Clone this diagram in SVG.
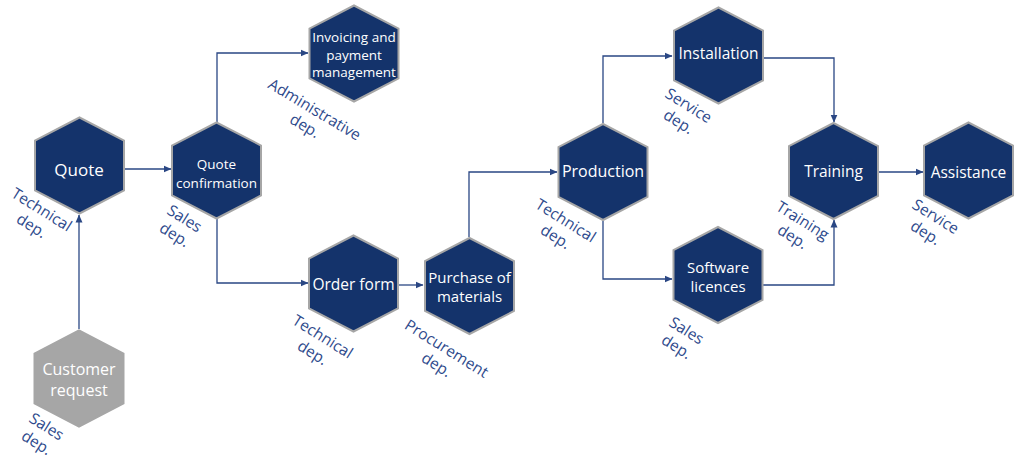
<svg xmlns="http://www.w3.org/2000/svg" xmlns:xlink="http://www.w3.org/1999/xlink" width="1014" height="459" viewBox="0 0 1014 459">
<style>
.hex{fill:#14336b;stroke:#a6a6a6;stroke-width:2}
.hexg{fill:#a6a6a6;stroke:#a6a6a6;stroke-width:2}
.t{font-family:"Open Sans","Liberation Sans",sans-serif;fill:#ffffff;text-anchor:middle;dominant-baseline:central}
.lbl{font-family:"Open Sans","Liberation Sans",sans-serif;fill:#2e4a8c;font-size:15.5px;text-anchor:middle;dominant-baseline:central}
.c{fill:none;stroke:#2a4784;stroke-width:1.3}
</style>
<defs>
<polygon id="hx" points="0,-48 44.5,-25 44.5,25 0,48 -44.5,25 -44.5,-25"/>
<marker id="ah" viewBox="0 0 8 8" refX="7.5" refY="4" markerWidth="8" markerHeight="8" markerUnits="userSpaceOnUse" orient="auto">
<path d="M0,0.5 L8,4 L0,7.5 Z" fill="#2a4784"/>
</marker>
</defs>
<rect width="1014" height="459" fill="#ffffff"/>
<g id="connectors">
<path class="c" d="M79,329 V215" marker-end="url(#ah)"/>
<path class="c" d="M124,169 H171" marker-end="url(#ah)"/>
<path class="c" d="M217,123 V53 H308" marker-end="url(#ah)"/>
<path class="c" d="M217,218 V283 H308" marker-end="url(#ah)"/>
<path class="c" d="M398,285 H423" marker-end="url(#ah)"/>
<path class="c" d="M469,237 V172 H557" marker-end="url(#ah)"/>
<path class="c" d="M603,123 V56 H672" marker-end="url(#ah)"/>
<path class="c" d="M603,221 V279 H672" marker-end="url(#ah)"/>
<path class="c" d="M764,58 H834 V122" marker-end="url(#ah)"/>
<path class="c" d="M763,285 H834 V220" marker-end="url(#ah)"/>
<path class="c" d="M878,172 H923" marker-end="url(#ah)"/>
</g>
<g id="quote">
<use xlink:href="#hx" class="hex" x="79.5" y="165.5"/>
<text class="t" x="79" y="169" font-size="17">Quote</text>
<g transform="translate(42,209) rotate(32)"><text class="lbl" x="0" y="0">Technical</text><text class="lbl" x="0" y="19">dep.</text></g>
</g>
<g id="quote-confirmation">
<use xlink:href="#hx" class="hex" x="216.5" y="170.5"/>
<text class="t" x="216.5" y="164" font-size="13.5">Quote</text>
<text class="t" x="216.5" y="183" font-size="13.5">confirmation</text>
<g transform="translate(185,218) rotate(32)"><text class="lbl" x="0" y="0">Sales</text><text class="lbl" x="0" y="19">dep.</text></g>
</g>
<g id="invoicing">
<use xlink:href="#hx" class="hex" x="354" y="53.5"/>
<text class="t" x="354" y="37" font-size="13.5">Invoicing and</text>
<text class="t" x="354" y="55" font-size="13.5">payment</text>
<text class="t" x="354" y="72" font-size="13.5">management</text>
<g transform="translate(315,109) rotate(31)"><text class="lbl" x="0" y="0">Administrative</text><text class="lbl" x="0" y="19">dep.</text></g>
</g>
<g id="customer-request">
<use xlink:href="#hx" class="hexg" x="79" y="378.5"/>
<text class="t" x="79" y="369" font-size="16">Customer</text>
<text class="t" x="79" y="390" font-size="16">request</text>
<g transform="translate(47,426) rotate(32)"><text class="lbl" x="0" y="0">Sales</text><text class="lbl" x="0" y="19">dep.</text></g>
</g>
<g id="order-form">
<use xlink:href="#hx" class="hex" x="353.5" y="283.5"/>
<text class="t" x="353.5" y="284" font-size="15.5">Order form</text>
<g transform="translate(323,336) rotate(32)"><text class="lbl" x="0" y="0">Technical</text><text class="lbl" x="0" y="19">dep.</text></g>
</g>
<g id="purchase">
<use xlink:href="#hx" class="hex" x="469.5" y="286"/>
<text class="t" x="469.5" y="276.5" font-size="15">Purchase  of</text>
<text class="t" x="469.5" y="295.5" font-size="15">materials</text>
<g transform="translate(447,348) rotate(32)"><text class="lbl" x="0" y="0">Procurement</text><text class="lbl" x="0" y="19">dep.</text></g>
</g>
<g id="production">
<use xlink:href="#hx" class="hex" x="603" y="172"/>
<text class="t" x="603" y="171" font-size="16">Production</text>
<g transform="translate(566,220) rotate(32)"><text class="lbl" x="0" y="0">Technical</text><text class="lbl" x="0" y="19">dep.</text></g>
</g>
<g id="installation">
<use xlink:href="#hx" class="hex" x="718.5" y="55.5"/>
<text class="t" x="718.5" y="53" font-size="15.5">Installation</text>
<g transform="translate(689,105) rotate(32)"><text class="lbl" x="0" y="0">Service</text><text class="lbl" x="0" y="19">dep.</text></g>
</g>
<g id="software-licences">
<use xlink:href="#hx" class="hex" x="718" y="275"/>
<text class="t" x="718" y="266.5" font-size="15">Software</text>
<text class="t" x="718" y="285.5" font-size="15">licences</text>
<g transform="translate(687,330) rotate(32)"><text class="lbl" x="0" y="0">Sales</text><text class="lbl" x="0" y="19">dep.</text></g>
</g>
<g id="training">
<use xlink:href="#hx" class="hex" x="833.5" y="171"/>
<text class="t" x="833.5" y="171" font-size="15.5">Training</text>
<g transform="translate(803,220) rotate(32)"><text class="lbl" x="0" y="0">Training</text><text class="lbl" x="0" y="19">dep.</text></g>
</g>
<g id="assistance">
<use xlink:href="#hx" class="hex" x="968.5" y="170.5"/>
<text class="t" x="968.5" y="172" font-size="15.5">Assistance</text>
<g transform="translate(936,216) rotate(32)"><text class="lbl" x="0" y="0">Service</text><text class="lbl" x="0" y="19">dep.</text></g>
</g>
</svg>
